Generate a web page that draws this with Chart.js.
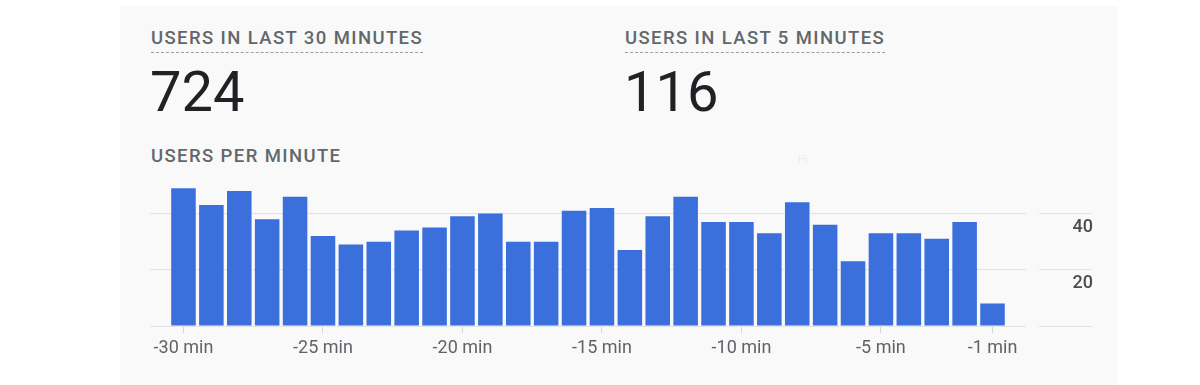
<!DOCTYPE html>
<html>
<head>
<meta charset="utf-8">
<script src="https://cdn.jsdelivr.net/npm/chart.js@4/dist/chart.umd.min.js"></script>
<style>
  html, body { margin: 0; padding: 0; background: #ffffff; }
  body { width: 1200px; height: 385px; position: relative; overflow: hidden; font-family: Roboto, "Noto Sans", sans-serif; }
  .card { position: absolute; left: 120px; top: 6px; width: 998px; height: 400px; background: #f9f9f9; }
  .label {
    position: absolute; font-size: 18.5px; font-weight: 500; line-height: 1;
    color: #63676b; letter-spacing: 1.4px; white-space: nowrap;
  }
  .dashed { padding-bottom: 4px; border-bottom: 1px dashed #9a9ea2; }
  .big { position: absolute; font-size: 56px; line-height: 1; color: #202124; font-weight: 400; }
  .chart-box { position: absolute; left: 120px; top: 166px; width: 998px; height: 219px; }
  .hint { position: absolute; left: 798px; top: 154px; font-size: 10px; color: #ececec; }
</style>
</head>
<body>
<div class="card"></div>
<div class="label dashed" style="left:151px; top:29px;">USERS IN LAST 30 MINUTES</div>
<div class="label dashed" style="left:625px; top:29px;">USERS IN LAST 5 MINUTES</div>
<div class="big" style="left:150px; top:64px;">724</div>
<div class="big" style="left:624px; top:64px;">116</div>
<div class="label" style="left:151px; top:147px;">USERS PER MINUTE</div>
<div class="hint">Hi</div>
<div class="chart-box"><canvas id="usersChart"></canvas></div>

<script>
// minutes before now, one bar per minute
const minutes = [-30, -29, -28, -27, -26, -25, -24, -23, -22, -21,
                 -20, -19, -18, -17, -16, -15, -14, -13, -12, -11,
                 -10, -9, -8, -7, -6, -5, -4, -3, -2, -1];
const usersPerMinute = [49, 43, 48, 38, 46, 32, 29, 30, 34, 35,
                        39, 40, 30, 30, 41, 42, 27, 39, 46, 37,
                        37, 33, 44, 36, 23, 33, 33, 31, 37, 8];
const xTickValues = [-30, -25, -20, -15, -10, -5, -1];
const yTickValues = [0, 20, 40];

document.addEventListener('DOMContentLoaded', () => {
    const ctx = document.getElementById('usersChart').getContext('2d');
    const gridGray = '#e2e2e2';

    new Chart(ctx, {
        type: 'bar',
        data: {
            datasets: [{
                label: 'Users per minute',
                data: minutes.map((m, i) => ({ x: m, y: usersPerMinute[i] })),
                backgroundColor: '#3a6fdc',
                borderWidth: 0,
                categoryPercentage: 1,
                barPercentage: 0.88
            }]
        },
        options: {
            responsive: true,
            maintainAspectRatio: false,
            animation: false,
            layout: { padding: { left: 30, right: 25, top: 0, bottom: 9 } },
            plugins: {
                legend: { display: false },
                tooltip: { enabled: false }
            },
            scales: {
                x: {
                    type: 'linear',
                    offset: false,
                    min: -31.2,
                    max: 0.2,
                    afterBuildTicks: scale => {
                        scale.ticks = xTickValues.map(v => ({ value: v }));
                    },
                    afterFit: scale => { scale.height = 50; },
                    border: { display: false },
                    grid: {
                        offset: false,
                        drawOnChartArea: false,
                        drawTicks: true,
                        tickLength: 7,
                        tickColor: '#d6d6d6'
                    },
                    ticks: {
                        maxRotation: 0,
                        autoSkip: false,
                        padding: 5,
                        color: '#5f6368',
                        font: { family: 'Roboto', size: 18 },
                        callback: v => v + ' min'
                    }
                },
                y: {
                    position: 'right',
                    min: 0,
                    max: 52,
                    afterBuildTicks: scale => {
                        scale.ticks = yTickValues.map(v => ({ value: v }));
                    },
                    afterFit: scale => { scale.width = 67; },
                    border: { display: false },
                    grid: {
                        color: gridGray,
                        tickColor: gridGray,
                        drawTicks: true,
                        tickLength: 66,
                        tickBorderDash: [0, 13, 53, 1000]
                    },
                    ticks: {
                        crossAlign: 'far',
                        labelOffset: 14,
                        color: '#4d4d4d',
                        font: { family: 'Roboto', size: 18, weight: '500' },
                        callback: v => (v === 0 ? '' : v)
                    }
                }
            }
        }
    });
});
</script>
</body>
</html>
